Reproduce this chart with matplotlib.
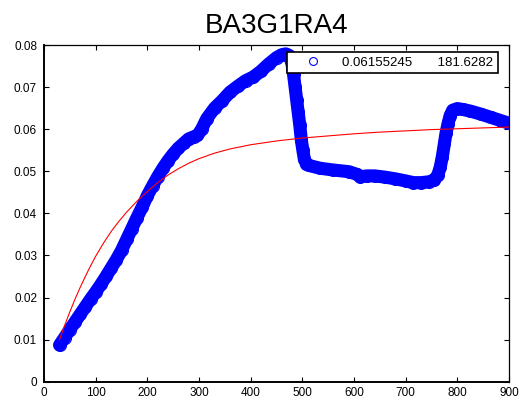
import matplotlib
matplotlib.use('Agg')
import matplotlib.pyplot as plt

blue_x = [30, 40, 50, 60, 70, 80, 90, 100, 110, 120, 130, 140, 150, 160, 170, 180,
          190, 200, 210, 220, 230, 240, 250, 260, 270, 280, 290, 297, 305, 315, 330,
          345, 360, 375, 390, 405, 420, 435, 450, 460, 468, 475, 480, 483, 486, 489,
          492, 495, 498, 501, 504, 508, 512, 535, 560, 590, 605, 612, 625, 640, 660,
          680, 700, 715, 730, 745, 755, 762, 767, 771, 775, 778, 782, 786, 791, 800,
          810, 825, 845, 865, 885, 900]
blue_y = [0.0087, 0.0105, 0.0124, 0.0142, 0.0160, 0.0178, 0.0196, 0.0213, 0.0231,
          0.0250, 0.0270, 0.0290, 0.0312, 0.0338, 0.0364, 0.0390, 0.0415, 0.0442,
          0.0465, 0.0487, 0.0507, 0.0525, 0.0541, 0.0555, 0.0566, 0.0577, 0.0582,
          0.0585, 0.0600, 0.0625, 0.0650, 0.0668, 0.0688, 0.0702, 0.0715, 0.0724,
          0.0738, 0.0755, 0.0770, 0.0777, 0.0779, 0.0775, 0.0755, 0.0730, 0.0700,
          0.0670, 0.0640, 0.0610, 0.0575, 0.0550, 0.0528, 0.0518, 0.0514, 0.0507,
          0.0503, 0.0499, 0.0493, 0.0487, 0.0489, 0.0489, 0.0486, 0.0482, 0.0477,
          0.0473, 0.0473, 0.0475, 0.0479, 0.0490, 0.0510, 0.0535, 0.0566, 0.0590,
          0.0613, 0.0632, 0.0645, 0.0649, 0.0647, 0.0643, 0.0636, 0.0628, 0.0620,
          0.0614]

# fitted curve
red_x = [30, 40, 50, 60, 70, 80, 90, 100, 115, 130, 145, 160, 180, 200, 220, 240,
         260, 280, 300, 330, 360, 400, 450, 500, 550, 600, 650, 700, 750, 800, 850,
         900]
red_y = [0.0100, 0.0134, 0.0166, 0.0196, 0.0224, 0.0250, 0.0275, 0.0298, 0.0329,
         0.0357, 0.0381, 0.0403, 0.0429, 0.0452, 0.0473, 0.0491, 0.0506, 0.0519,
         0.0530, 0.0543, 0.0553, 0.0563, 0.0572, 0.0579, 0.0584, 0.0589, 0.0593,
         0.0596, 0.0599, 0.0601, 0.0603, 0.0605]

legend_label = '0.06155245       181.6282'
x_ticks = [0, 100, 200, 300, 400, 500, 600, 700, 800, 900]
y_ticks = [0, 0.01, 0.02, 0.03, 0.04, 0.05, 0.06, 0.07, 0.08]
y_ticklabels = ['0', '0.01', '0.02', '0.03', '0.04', '0.05', '0.06', '0.07', '0.08']

plt.rcParams['font.family'] = ['Liberation Sans', 'DejaVu Sans']

fig = plt.figure(figsize=(5.21, 4.01), dpi=100)
ax = fig.add_axes([44 / 521, 19.3 / 401, 465 / 521, 336.7 / 401])

# dense open circles look like a solid band, so back them with a thick line
ax.plot(blue_x, blue_y, '-', color='blue', lw=9.4, solid_capstyle='round',
        solid_joinstyle='round', zorder=2)
ax.plot(blue_x, blue_y, 'o', mfc='none', mec='blue', ms=8.6, mew=0.8,
        label=legend_label, zorder=3)
ax.plot(red_x, red_y, '-', color='red', lw=0.8, zorder=4)

ax.set_xlim(0, 900)
ax.set_ylim(0, 0.08)
ax.set_xticks(x_ticks)
ax.set_yticks(y_ticks)
ax.set_yticklabels(y_ticklabels)
ax.tick_params(direction='in', top=True, right=True, length=3.5, width=0.8,
               labelsize=8.5)
ax.tick_params(axis='y', pad=5)
ax.tick_params(axis='x', pad=3.5)
for side in ['left', 'bottom']:
    ax.spines[side].set_linewidth(1.4)
for side in ['top', 'right']:
    ax.spines[side].set_linewidth(0.9)

ax.set_title('BA3G1RA4', fontsize=20, pad=9)

leg = ax.legend(loc='upper right', bbox_to_anchor=(498 / 521, 1 - 52 / 401),
                bbox_transform=fig.transFigure, borderaxespad=0, numpoints=1,
                markerscale=0.66, fontsize=9.5, fancybox=False, framealpha=1,
                edgecolor='black', borderpad=0.35, handlelength=3.3,
                handletextpad=0.55)
leg.get_frame().set_linewidth(1.2)
leg.set_zorder(10)

fig.savefig('out.png', dpi=100)
